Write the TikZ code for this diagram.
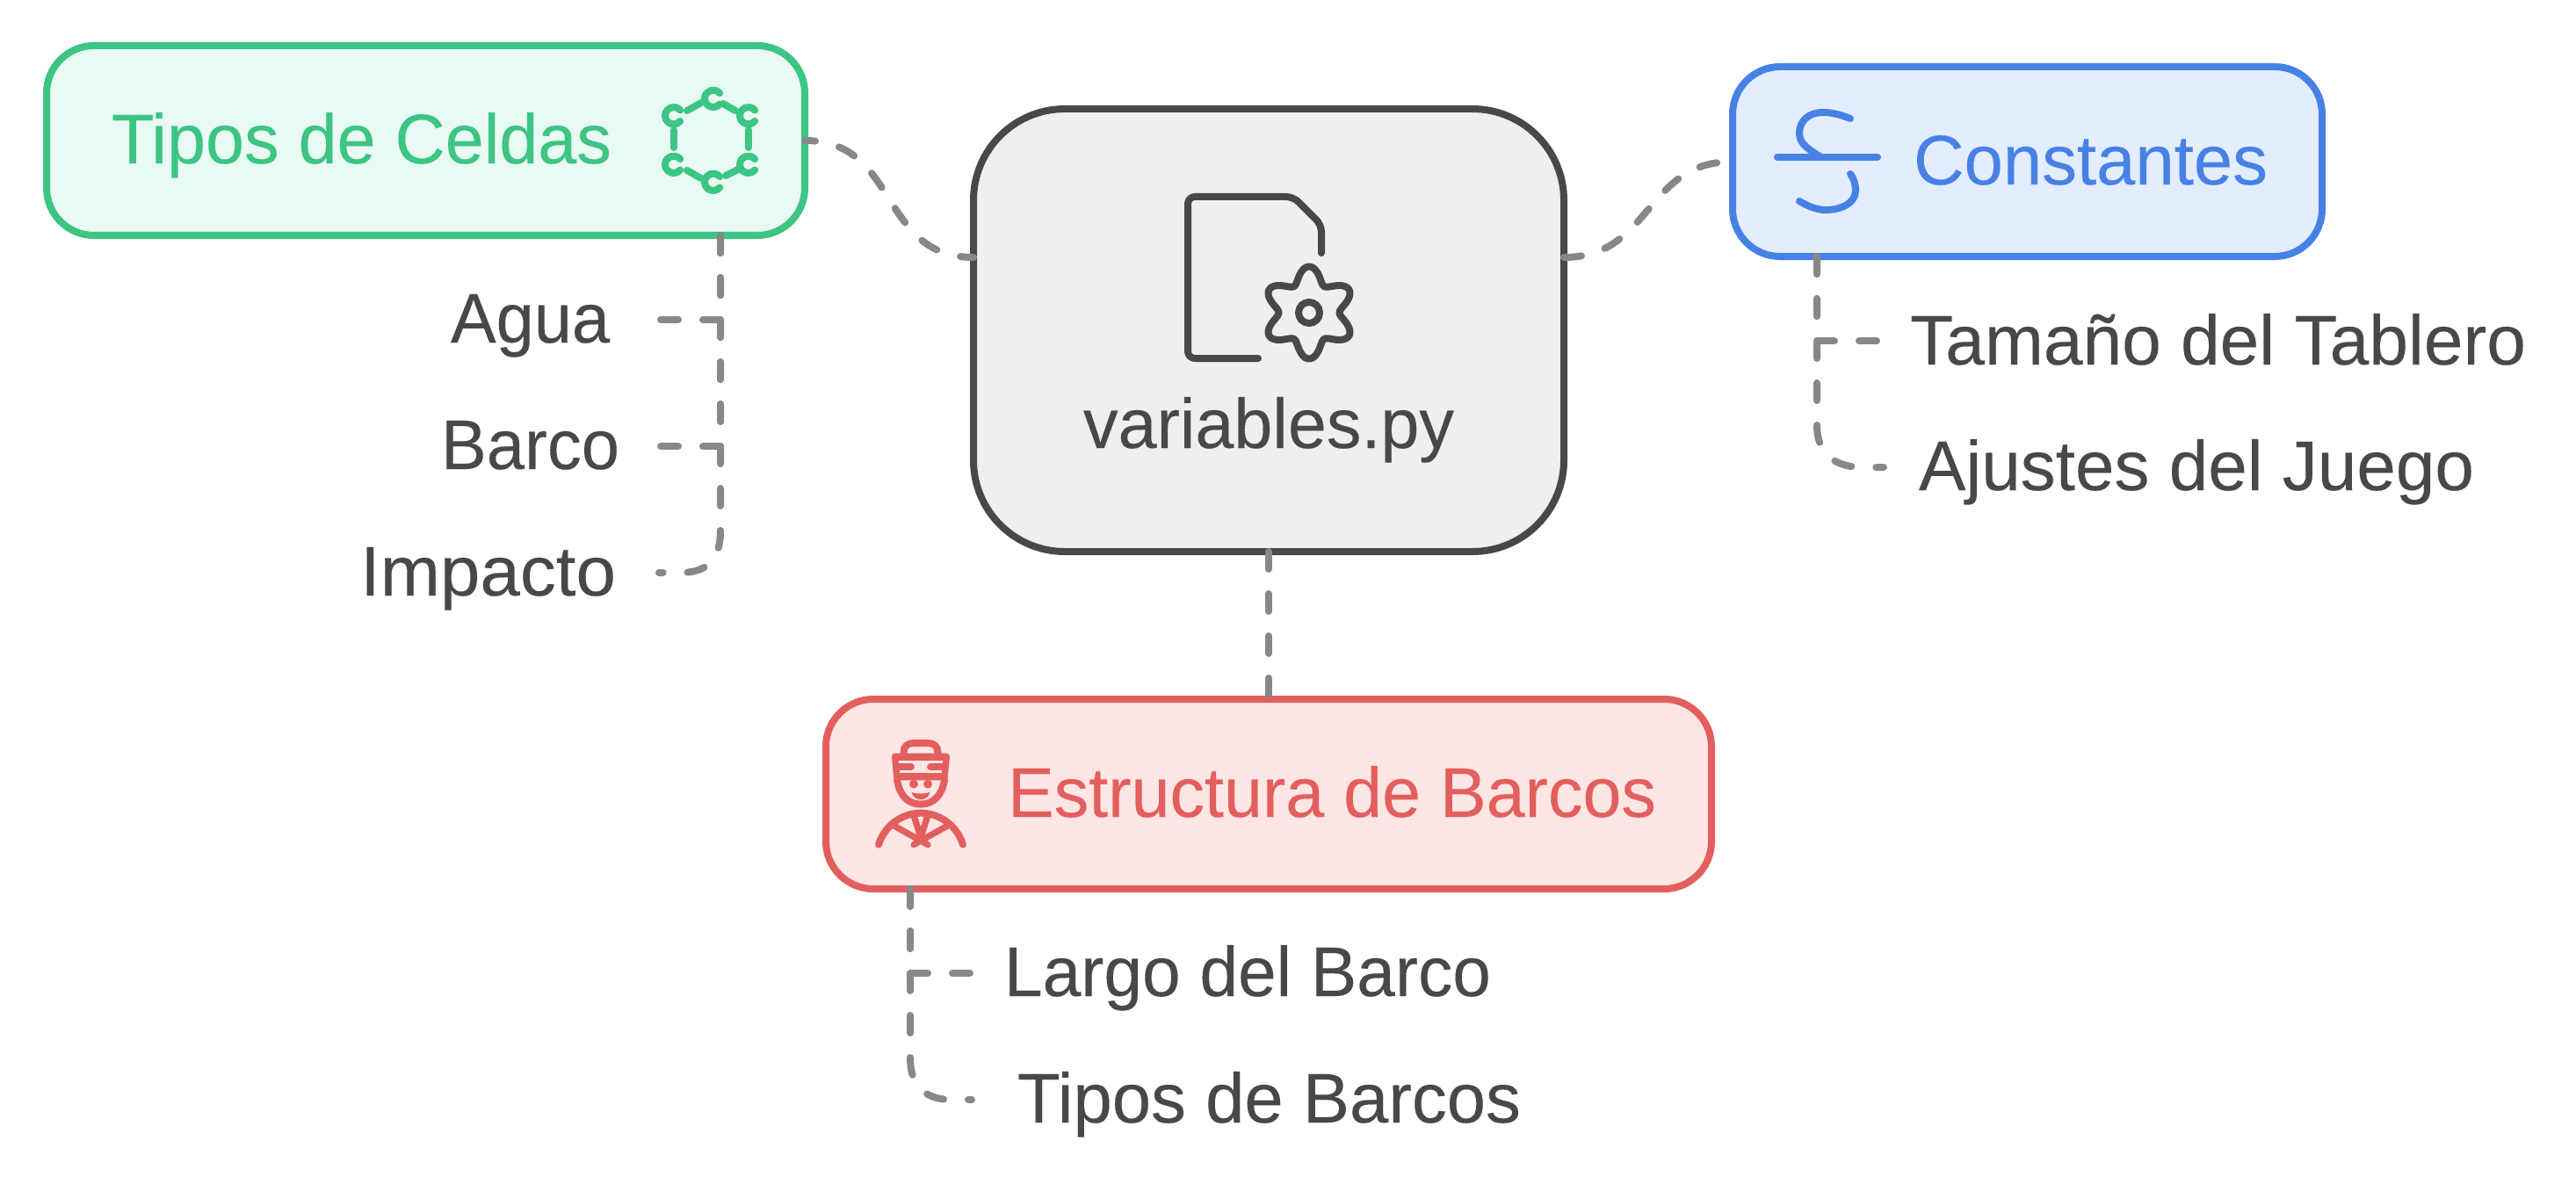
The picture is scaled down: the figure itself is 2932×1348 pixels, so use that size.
\documentclass[tikz,border=0pt]{standalone}
\usepackage{fontspec}
\usepackage{graphicx}
\usetikzlibrary{calc}
\setmainfont{Liberation Sans}[FakeBold=0.15]
\definecolor{cgreen}{HTML}{3CC583}
\definecolor{fgreen}{HTML}{E8FAF3}
\definecolor{cblue}{HTML}{4781E6}
\definecolor{fblue}{HTML}{E3EDFE}
\definecolor{cred}{HTML}{E35F5D}
\definecolor{fred}{HTML}{FEE6E5}
\definecolor{cdark}{HTML}{484848}
\definecolor{fgray}{HTML}{EFEFEF}
\definecolor{clink}{HTML}{888888}
\newcommand{\fitw}[2]{\resizebox{#1pt}{\height}{#2}}
\tikzset{
  boxbase/.style={rectangle,rounded corners=27pt,line width=4pt,inner sep=0pt,outer sep=0pt,anchor=north west},
  linkline/.style={draw=clink,line width=4pt,line cap=round,dash pattern=on 10pt off 14pt},
  lab/.style={anchor=base west,inner sep=0pt,outer sep=0pt,font=\fontsize{40pt}{48pt}\selectfont},
  ico/.style={line width=4pt,line cap=round,line join=round},
  hexline/.style={ico,cgreen,line width=4pt},
  sailorthin/.style={ico,cred,line width=3.6pt},
}
\begin{document}
\begin{tikzpicture}[x=0.5pt,y=-0.5pt]
\useasboundingbox (0,0) rectangle (2932,1348);
% boxes
\node[boxbase,draw=cgreen,fill=fgreen,minimum width=431.5pt,minimum height=108pt] (green) at (53,52) {};
\node[boxbase,draw=cblue,fill=fblue,minimum width=335.5pt,minimum height=108pt] (blue) at (1972,76) {};
\node[boxbase,draw=cred,fill=fred,minimum width=504pt,minimum height=108pt] (red) at (940,796) {};
\node[boxbase,rounded corners=52pt,draw=cdark,fill=fgray,minimum width=336pt,minimum height=252pt] (center) at (1108,124) {};
% free ends
\coordinate (endAgua) at (752,364);
\coordinate (endBarco) at (752,508);
\coordinate (endImpacto) at (750,652);
\coordinate (endTam) at (2148,388);
\coordinate (endAju) at (2144,532);
\coordinate (endLargo) at (1104,1108);
\coordinate (endTipos) at (1106,1252);
% connectors
\draw[linkline,dash phase=4pt] (green.east) .. controls +(108,0) and ($(center.west)+(-108,-83)$) .. ($(center.west)+(0,-83)$);
\draw[linkline] ($(center.east)+(0,-83)$) .. controls +(100,0) and ($(blue.west)+(-100,0)$) .. (blue.west);
\draw[linkline] (center.south) -- (red.north);
\draw[linkline] ($(green.south west)+(767,0)$) |- (endAgua);
\draw[linkline] ($(green.south west)+(767,0)$) |- (endBarco);
\draw[linkline] ($(green.south west)+(767,0)$) -- +(0,336) .. controls +(0,36) and ($(endImpacto)+(52,0)$) .. ($(endImpacto)+(24,0)$) -- (endImpacto);
\draw[linkline] ($(blue.south west)+(96,0)$) |- (endTam);
\draw[linkline] ($(blue.south west)+(96,0)$) -- +(0,192) .. controls +(0,36) and ($(endAju)+(-52,0)$) .. ($(endAju)+(-24,0)$) -- (endAju);
\draw[linkline] ($(red.south west)+(96,0)$) |- (endLargo);
\draw[linkline] ($(red.south west)+(96,0)$) -- +(0,192) .. controls +(0,36) and ($(endTipos)+(-50,0)$) .. ($(endTipos)+(-22,0)$) -- (endTipos);
% labels
\node[lab,text=cgreen] (tGreen) at (127,186) {\fitw{284.5}{Tipos de Celdas}};
\node[lab,text=cblue] (tBlue) at (2178,210) {\fitw{201.5}{Constantes}};
\node[lab,text=cred] (tRed) at (1147,930) {\fitw{369}{Estructura de Barcos}};
\node[lab,text=cdark] (tCenter) at (1233,510) {\fitw{211}{variables.py}};
\node[lab,text=cdark] (agua) at (513,390) {\fitw{90.5}{Agua}};
\node[lab,text=cdark] (barco) at (502,534) {\fitw{101.5}{Barco}};
\node[lab,text=cdark] (impacto) at (410,678) {\fitw{145.5}{Impacto}};
\node[lab,text=cdark] (tam) at (2174,415) {\fitw{350.5}{Tamaño del Tablero}};
\node[lab,text=cdark] (aju) at (2184,558) {\fitw{316}{Ajustes del Juego}};
\node[lab,text=cdark] (largo) at (1143,1134) {\fitw{277}{Largo del Barco}};
\node[lab,text=cdark] (tipos) at (1158,1278) {\fitw{286.5}{Tipos de Barcos}};
% file + gear icon
\draw[ico,cdark,rounded corners=4pt] (1432,408) -- (1352,408) -- (1352,224) -- (1472,224) -- (1504,256) -- (1504,288);
\draw[ico,cdark] plot[domain=0:360,samples=145,variable=\t] ({1490+(43.5+9*cos(6*\t))*sin(\t)},{356-(43.5+9*cos(6*\t))*cos(\t)}) -- cycle;
\draw[ico,cdark] (1490,356) circle[radius=12];
% hexagon icon
\foreach \cx/\cy in {766.7/131.7,811.7/112.3,851.7/131.7,766.7/187.3,851.7/187.3,811.7/207.3}{
  \draw[hexline] ($(\cx,\cy)+(40:9.7)$) arc[start angle=40,end angle=320,radius=9.7];
}
\draw[hexline] (766.7,148) -- (766.7,168);
\draw[hexline] (852,148) -- (852,168);
\draw[hexline] (782,126) -- (798,117);
\draw[hexline] (823,118) -- (837,126);
\draw[hexline] (782,194) -- (798,203);
\draw[hexline] (826,200) -- (840,193);
% wave icon
\draw[ico,cblue] (2023,179) -- (2137,179);
\draw[ico,cblue] (2106,135) .. controls (2096,131) and (2086,128) .. (2075,128) .. controls (2058,128) and (2048,138) .. (2048,152) .. controls (2048,165) and (2062,172) .. (2073,179);
\draw[ico,cblue] (2106,198) .. controls (2110,203) and (2112,210) .. (2112,217) .. controls (2112,231) and (2096,239) .. (2078,239) .. controls (2068,239) and (2058,235) .. (2048,229);
% sailor icon
\begin{scope}[shift={(930,780)},x=0.166667pt,y=-0.166667pt]
  \draw[ico,cred] (296,235) -- (296,228) .. controls (296,208) and (310,198) .. (330,198) -- (378,198) .. controls (398,198) and (412,208) .. (412,228) -- (412,235);
  \fill[cred,rounded corners=2pt] (254,233) -- (454,233) -- (445,325) -- (262,325) -- cycle;
  \fill[fred] (280,258) rectangle (428,266);
  \fill[fred] (283,292) rectangle (425,300);
  \fill[fred] (316,264) rectangle (392,294);
  \draw[cred,line width=4.33pt,line cap=round] (300,279) -- (320,279);
  \draw[cred,line width=4.33pt,line cap=round] (388,279) -- (408,279);
  \draw[ico,cred] (273,322) .. controls (280,375) and (310,407) .. (354,407) .. controls (398,407) and (428,375) .. (435,322);
  \fill[cred] (330,338) circle[radius=15] (378,338) circle[radius=15];
  \fill[cred] (323,366) .. controls (340,372) and (368,372) .. (385,366) .. controls (382,385) and (365,391) .. (354,391) .. controls (343,391) and (326,385) .. (323,366) -- cycle;
  \draw[ico,cred] (210,545) .. controls (230,480) and (290,437) .. (354,437) .. controls (418,437) and (478,480) .. (498,545);
  \draw[sailorthin] (262,480) -- (378,545);
  \draw[sailorthin] (446,480) -- (330,545);
  \draw[sailorthin] (330,445) -- (354,520) -- (378,445);
\end{scope}
\end{tikzpicture}
\end{document}
